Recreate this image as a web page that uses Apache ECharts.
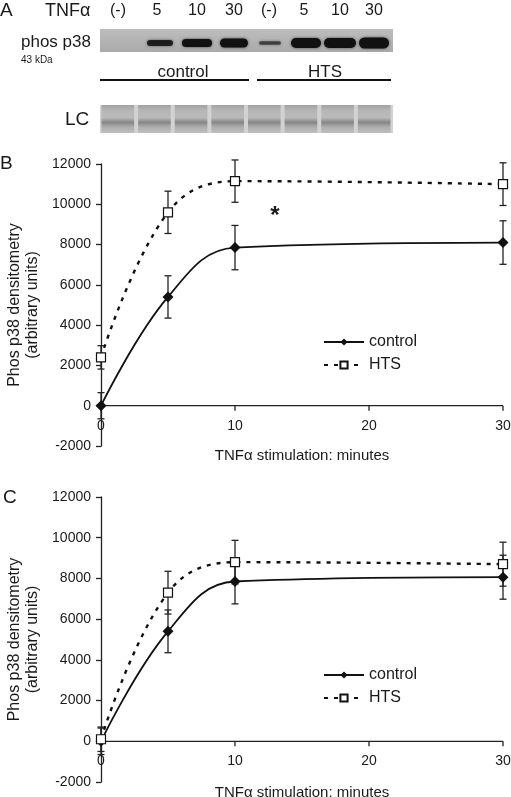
<!DOCTYPE html>
<html>
<head>
<meta charset="utf-8">
<script src="https://cdn.jsdelivr.net/npm/echarts@6/dist/echarts.min.js"></script>
<style>html,body{margin:0;padding:0;background:#fff}#c{width:511px;height:797px}</style>
</head>
<body>
<div id="c"></div>
<script>
// ---- data ----
const times = [0, 5, 10, 30];
const xTicks = [0, 10, 20, 30];
const controlB = [0, 5400, 7850, 8100];
const controlErrB = [650, 1050, 1100, 1080];
const htsB = [2400, 9600, 11150, 11000];
const htsErrB = [580, 1050, 1050, 1060];
const controlC = [0, 5400, 7850, 8060];
const controlErrC = [650, 1050, 1100, 1080];
const htsC = [100, 7300, 8800, 8700];
const htsErrC = [600, 1050, 1070, 1080];
const blotLabels = ['(-)', '5', '10', '30', '(-)', '5', '10', '30'];
const groupLabels = ['control', 'HTS'];

const FONT = "'Liberation Sans', Arial, sans-serif";
const INK = '#1a1a1a';
const AX = { stroke: '#222', lineWidth: 1.3 };

function pairs(ys) { return times.map((t, i) => [t, ys[i]]); }
function errs(ys, es) { return times.map((t, i) => [t, ys[i] - es[i], ys[i] + es[i]]); }

function errRender(params, api) {
  const x = api.value(0), lo = api.value(1), hi = api.value(2);
  const a = api.coord([x, hi]), b = api.coord([x, lo]);
  const cw = 3.5, st = { stroke: '#222', lineWidth: 1.3 };
  return { type: 'group', children: [
    { type: 'line', shape: { x1: a[0], y1: a[1], x2: b[0], y2: b[1] }, style: st },
    { type: 'line', shape: { x1: a[0] - cw, y1: a[1], x2: a[0] + cw, y2: a[1] }, style: st },
    { type: 'line', shape: { x1: b[0] - cw, y1: b[1], x2: b[0] + cw, y2: b[1] }, style: st }
  ]};
}
// x axis line drawn on y = 0, with its ticks, through the chart's own scales
function zeroAxisRender(params, api) {
  const x = api.value(0);
  const p = api.coord([x, 0]);
  const kids = [{ type: 'line', shape: { x1: p[0], y1: p[1], x2: p[0], y2: p[1] + 5 }, style: AX }];
  if (params.dataIndex === 0) {
    const e = api.coord([xTicks[xTicks.length - 1], 0]);
    kids.push({ type: 'line', shape: { x1: p[0], y1: p[1], x2: e[0], y2: e[1] }, style: AX });
  }
  return { type: 'group', children: kids };
}

function xAx(gi, gap, margin) {
  return {
    gridIndex: gi, type: 'value', min: 0, max: 30, interval: 10,
    name: 'TNFα stimulation: minutes', nameLocation: 'middle', nameGap: gap,
    nameTextStyle: { fontFamily: FONT, fontSize: 15, color: INK },
    axisLine: { show: false, onZero: false },
    axisTick: { show: false },
    axisLabel: { fontFamily: FONT, fontSize: 14, color: INK, margin: margin,
      formatter: v => String(v) },
    splitLine: { show: false }
  };
}
function yAx(gi) {
  return {
    gridIndex: gi, type: 'value', min: -2000, max: 12000, interval: 2000,
    name: 'Phos p38 densitometry\n(arbitrary units)', nameLocation: 'middle', nameGap: 58,
    nameTextStyle: { fontFamily: FONT, fontSize: 16, color: INK, lineHeight: 18 },
    axisLine: { show: true, onZero: false, lineStyle: { color: '#222', width: 1.3 } },
    axisTick: { show: true, length: 5, lineStyle: { color: '#222', width: 1.3 } },
    axisLabel: { fontFamily: FONT, fontSize: 14, color: INK, margin: 10, formatter: v => String(v) },
    splitLine: { show: false }
  };
}
function lineSeries(name, gi, ys, dashed) {
  return {
    name, type: 'line', xAxisIndex: gi, yAxisIndex: gi, data: pairs(ys),
    smooth: 0.4, z: 5,
    symbol: dashed ? 'rect' : 'diamond', symbolSize: dashed ? 9 : 11,
    itemStyle: dashed ? { color: '#fff', borderColor: '#111', borderWidth: 1.2 } : { color: '#111' },
    lineStyle: dashed ? { color: '#111', width: 2.4, type: [4, 6] } : { color: '#111', width: 1.8 },
    emphasis: { disabled: true }
  };
}
function errSeries(gi, ys, es) {
  return { type: 'custom', xAxisIndex: gi, yAxisIndex: gi, data: errs(ys, es),
    renderItem: errRender, z: 3, silent: true };
}
function zeroAxisSeries(gi) {
  return { type: 'custom', xAxisIndex: gi, yAxisIndex: gi, data: xTicks.map(v => [v, 0]),
    renderItem: zeroAxisRender, z: 2, silent: true };
}
function legendAt(top) {
  return { left: 318, top, orient: 'vertical', itemWidth: 40, itemHeight: 9, itemGap: 7,
    selectedMode: false, textStyle: { fontFamily: FONT, fontSize: 16, color: INK },
    data: ['control', 'HTS'] };
}

// ---- blot decoration (panel A) ----
const laneW = 293 / 8;
const graphics = [];
function txt(x, y, s, size, align, extra) {
  graphics.push({ type: 'text', x, y, style: Object.assign({ text: s, fontFamily: FONT, fontSize: size,
    fill: INK, align: align || 'left', verticalAlign: 'middle' }, extra || {}) });
}
txt(0, 11, 'A', 19);
txt(45, 11, 'TNFα', 18);
const colX = [118, 157, 197, 234, 269, 304, 340, 374];
blotLabels.forEach((s, i) => txt(colX[i], 11, s, 16, 'center'));
txt(21, 42, 'phos p38', 17);
txt(21, 60, '43 kDa', 10);
graphics.push({ type: 'rect', shape: { x: 100, y: 29, width: 293, height: 23 },
  style: { fill: { type: 'linear', x: 0, y: 0, x2: 0, y2: 1, colorStops: [
    { offset: 0, color: '#bdbdbd' }, { offset: 1, color: '#aaaaaa' }] } } });
const bands = [null, [160, 26, 6, 0.85], [197, 30, 8, 1], [234, 28, 9, 1],
  [270, 22, 3.5, 0.6], [306, 30, 10, 1], [340, 32, 10, 1], [374, 30, 11, 1]];
bands.forEach(b => {
  if (!b) return;
  graphics.push({ type: 'rect', shape: { x: b[0] - b[1] / 2, y: 43 - b[2] / 2, width: b[1], height: b[2], r: b[2] / 2 },
    style: { fill: '#111', opacity: b[3], shadowBlur: 3, shadowColor: 'rgba(0,0,0,0.6)' } });
});
txt(183, 72, groupLabels[0], 17, 'center');
txt(325, 72, groupLabels[1], 17, 'center');
graphics.push({ type: 'line', shape: { x1: 100, y1: 80, x2: 249, y2: 80 }, style: { stroke: '#111', lineWidth: 2 } });
graphics.push({ type: 'line', shape: { x1: 257, y1: 80, x2: 391, y2: 80 }, style: { stroke: '#111', lineWidth: 2 } });
graphics.push({ type: 'rect', shape: { x: 100, y: 105, width: 293, height: 28 }, style: { fill: '#d2d2d2' } });
for (let i = 0; i < 8; i++) {
  graphics.push({ type: 'rect', shape: { x: 100 + i * laneW + 1.5, y: 105, width: laneW - 4, height: 28 },
    style: { fill: { type: 'linear', x: 0, y: 0, x2: 0, y2: 1, colorStops: [
      { offset: 0, color: '#a2a2a2' }, { offset: 0.2, color: '#b6b6b6' }, { offset: 0.45, color: '#bababa' },
      { offset: 0.62, color: '#868686' }, { offset: 0.78, color: '#acacac' }, { offset: 1, color: '#c0c0c0' }] } } });
}
txt(65, 120, 'LC', 19);
txt(0, 164, 'B', 19);
txt(3, 498, 'C', 19);
txt(275, 216, '*', 24, 'center', { fontWeight: 'bold' });

const chart = echarts.init(document.getElementById('c'), null, { renderer: 'canvas' });
chart.setOption({
  animation: false,
  backgroundColor: '#fff',
  textStyle: { fontFamily: FONT },
  grid: [
    { left: 101, right: 8, top: 164, height: 282, containLabel: false, outerBoundsMode: 'none' },
    { left: 101, right: 8, top: 497, height: 285, containLabel: false, outerBoundsMode: 'none' }
  ],
  xAxis: [xAx(0, 0, -27), xAx(1, 3, -28)],
  yAxis: [yAx(0), yAx(1)],
  legend: [legendAt(329), legendAt(662)],
  series: [
    zeroAxisSeries(0),
    errSeries(0, controlB, controlErrB),
    errSeries(0, htsB, htsErrB),
    lineSeries('control', 0, controlB, false),
    lineSeries('HTS', 0, htsB, true),
    zeroAxisSeries(1),
    errSeries(1, controlC, controlErrC),
    errSeries(1, htsC, htsErrC),
    lineSeries('control', 1, controlC, false),
    lineSeries('HTS', 1, htsC, true)
  ],
  graphic: graphics
});
</script>
</body>
</html>
